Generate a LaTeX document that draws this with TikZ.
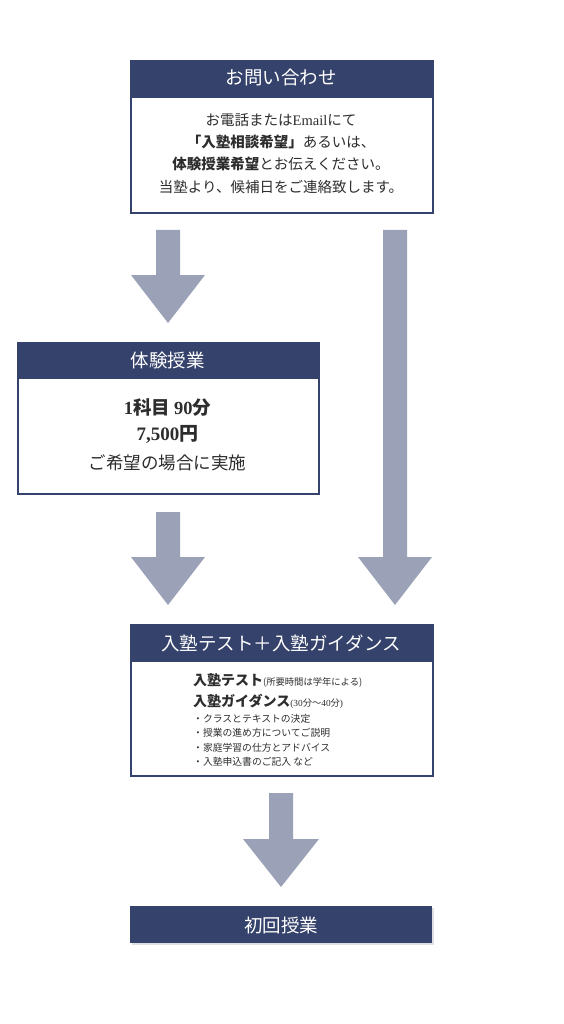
\documentclass[tikz,border=0pt]{standalone}
\usepackage{fontspec}
\usetikzlibrary{calc}
\setmainfont{Noto Sans CJK JP}
\newfontfamily\lat{Liberation Serif}
\definecolor{navy}{RGB}{53,66,107}
\definecolor{arr}{RGB}{155,162,184}
\definecolor{txt}{RGB}{45,45,45}
\definecolor{shadow}{RGB}{222,224,230}
\tikzset{
  frame/.style={draw=navy, line width=1.8pt, fill=white, inner sep=0pt, anchor=north west},
  hdr/.style={fill=navy, inner sep=0pt, anchor=north west},
  hdrtext/.style={text=white, font=\fontsize{18.5}{21}\selectfont, inner sep=0pt},
  body/.style={text=txt, inner sep=0pt},
  blockarrow/.style={fill=arr, draw=none},
}
\begin{document}
\begin{tikzpicture}[x=1pt,y=-1pt]
\useasboundingbox (0,0) rectangle (563,1024);

% ---------- box 1
\fill[shadow] (132,62) rectangle (434,214);
\node[frame, minimum width=302pt, minimum height=152pt] (box1) at (130,60) {};
\node[hdr, minimum width=302pt, minimum height=38pt] (hdr1) at (130,60) {};
\node[hdrtext] (t1) at (281,78) {お問い合わせ};
\node[body, font=\fontsize{14.5}{16}\selectfont] (b1a) at (281,120) {お電話または{\lat Email}にて};
\node[body, font=\fontsize{14.5}{16}\selectfont] (b1b) at (281,142) {\textbf{「入塾相談希望」}あるいは、};
\node[body, font=\fontsize{14.5}{16}\selectfont] (b1c) at (281,164) {\textbf{体験授業希望}とお伝えください。};
\node[body, font=\fontsize{14.5}{16}\selectfont] (b1d) at (281,187) {当塾より、候補日をご連絡致します。};

% ---------- box 2
\fill[shadow] (19,344) rectangle (320,495);
\node[frame, minimum width=301pt, minimum height=151pt] (box2) at (17,342) {};
\node[hdr, minimum width=301pt, minimum height=37pt] (hdr2) at (17,342) {};
\node[hdrtext] (t2) at (167.5,360) {体験授業};
\node[body, font=\fontsize{18.5}{20}\selectfont] (b2a) at (167.5,408) {\textbf{{\lat\bfseries 1}科目 {\lat\bfseries 90}分}};
\node[body, font=\fontsize{19}{20}\selectfont] (b2b) at (167.5,434) {\textbf{{\lat\bfseries 7,500}円}};
\node[body, font=\fontsize{17.5}{20}\selectfont] (b2c) at (167.5,463) {ご希望の場合に実施};

% ---------- box 3
\fill[shadow] (132,626) rectangle (434,777);
\node[frame, minimum width=302pt, minimum height=151pt] (box3) at (130,624) {};
\node[hdr, minimum width=302pt, minimum height=38pt] (hdr3) at (130,624) {};
\node[hdrtext] (t3) at (281,643) {入塾テスト＋入塾ガイダンス};
\node[body, anchor=west, font=\fontsize{14}{16}\selectfont] (b3a) at (193,680) {\textbf{入塾テスト}{\fontsize{9.3}{10}\selectfont ({所要時間は学年による})}};
\node[body, anchor=west, font=\fontsize{14}{16}\selectfont] (b3b) at (193,701) {\textbf{入塾ガイダンス}{\fontsize{9.3}{10}\selectfont{\lat (30}分〜{\lat 40}分{\lat )}}};
\node[body, anchor=west, font=\fontsize{9.8}{11}\selectfont] (b3c) at (193,719) {・クラスとテキストの決定};
\node[body, anchor=west, font=\fontsize{9.8}{11}\selectfont] (b3d) at (193,733) {・授業の進め方についてご説明};
\node[body, anchor=west, font=\fontsize{9.8}{11}\selectfont] (b3e) at (193,748) {・家庭学習の仕方とアドバイス};
\node[body, anchor=west, font=\fontsize{9.8}{11}\selectfont] (b3f) at (193,762) {・入塾申込書のご記入 など};

% ---------- box 4
\fill[shadow] (132,908) rectangle (434,945);
\node[hdr, minimum width=302pt, minimum height=37pt] (box4) at (130,906) {};
\node[hdrtext] (t4) at (281,925) {初回授業};

% ---------- block arrows
\coordinate (a1) at (168,230);
\coordinate (a2) at (168,512);
\coordinate (a3) at (395,230);
\coordinate (a4) at (281,793);
% arrow 1 (box1 -> box2)
\fill[blockarrow] ($(a1)+(-12,0)$) -- ($(a1)+(12,0)$) -- ($(a1)+(12,45)$) -- ($(a1)+(37,45)$)
  -- ($(a1)+(0,93)$) -- ($(a1)+(-37,45)$) -- ($(a1)+(-12,45)$) -- cycle;
% arrow 2 (box2 -> box3)
\fill[blockarrow] ($(a2)+(-12,0)$) -- ($(a2)+(12,0)$) -- ($(a2)+(12,45)$) -- ($(a2)+(37,45)$)
  -- ($(a2)+(0,93)$) -- ($(a2)+(-37,45)$) -- ($(a2)+(-12,45)$) -- cycle;
% long arrow (box1 -> box3)
\fill[blockarrow] ($(a3)+(-12,0)$) -- ($(a3)+(12,0)$) -- ($(a3)+(12,327)$) -- ($(a3)+(37,327)$)
  -- ($(a3)+(0,375)$) -- ($(a3)+(-37,327)$) -- ($(a3)+(-12,327)$) -- cycle;
% arrow 3 (box3 -> box4)
\fill[blockarrow] ($(a4)+(-12,0)$) -- ($(a4)+(12,0)$) -- ($(a4)+(12,46)$) -- ($(a4)+(38,46)$)
  -- ($(a4)+(0,94)$) -- ($(a4)+(-38,46)$) -- ($(a4)+(-12,46)$) -- cycle;
\end{tikzpicture}
\end{document}
